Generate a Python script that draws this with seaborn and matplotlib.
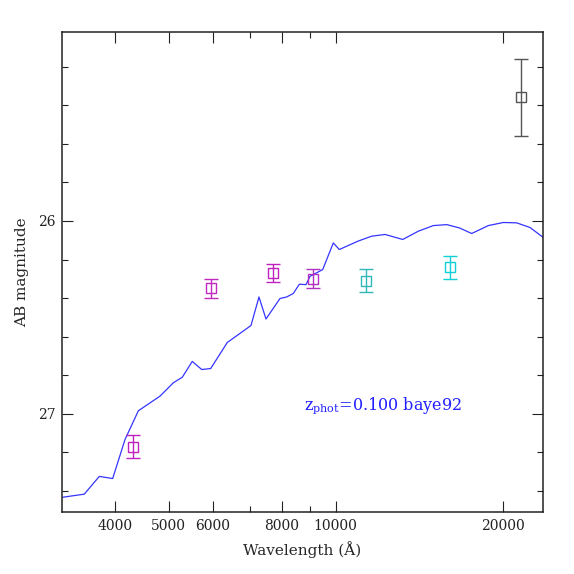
import matplotlib
matplotlib.use("Agg")
import numpy as np
import pandas as pd
import matplotlib.pyplot as plt
from matplotlib.ticker import FixedLocator, FixedFormatter, MultipleLocator, NullFormatter
import seaborn as sns

# best-fit template spectrum (baye92), wavelength in Angstrom / AB mag
spec_wave = [3222, 3524, 3751, 3965, 4173, 4410, 4825, 5098, 5292, 5516,
             5736, 5954, 6378, 7037, 7274, 7489, 7936, 8160, 8386, 8600,
             8842, 8989, 9475, 9901, 10150, 10985, 11610, 12270, 13205, 14090,
             14995, 15850, 16700, 17580, 18835, 20045, 21190, 22390, 23660]
spec_mag = [27.432, 27.416, 27.324, 27.335, 27.133, 26.984, 26.908, 26.839, 26.810, 26.728,
            26.770, 26.765, 26.630, 26.542, 26.394, 26.508, 26.402, 26.394, 26.376, 26.328,
            26.330, 26.287, 26.252, 26.114, 26.148, 26.104, 26.079, 26.070, 26.096, 26.053,
            26.024, 26.019, 26.036, 26.065, 26.024, 26.008, 26.010, 26.034, 26.086]

# observed photometry
phot_wave = [4313, 5954, 7720, 9090, 11340, 16090, 21570]
phot_mag = [27.17, 26.349, 26.269, 26.300, 26.309, 26.241, 25.359]
phot_err = [0.06, 0.05, 0.048, 0.05, 0.06, 0.058, 0.20]
phot_colors = ["#c020c0", "#c028c0", "#c020c0", "#b030c0", "#30b8b8", "#10d0d8", "#555555"]

x_major = [4000, 5000, 6000, 8000, 10000, 20000]
x_major_labels = ["4000", "5000", "6000", "8000", "10000", "20000"]
x_minor = [7000, 9000]

sns.set_theme(style="ticks")
plt.rcParams["font.family"] = ["DejaVu Serif"]
plt.rcParams["mathtext.fontset"] = "dejavuserif"

fig = plt.figure(figsize=(5.74, 5.74), dpi=100)
ax = fig.add_axes([0.1085, 0.1075, 0.837, 0.837])

spec = pd.DataFrame({"wave": spec_wave, "mag": spec_mag})
sns.lineplot(data=spec, x="wave", y="mag", ax=ax, color="#3535ff",
             linewidth=0.9, sort=False)

for w, m, e, c in zip(phot_wave, phot_mag, phot_err, phot_colors):
    ax.errorbar(w, m, yerr=e, fmt="s", ms=7, mfc="none", mec=c, mew=1.0,
                ecolor=c, elinewidth=1.0, capsize=5, capthick=1.0)

ax.set_xscale("log")
ax.set_xlim(3217, 23600)
ax.set_ylim(27.51, 25.02)

ax.xaxis.set_major_locator(FixedLocator(x_major))
ax.xaxis.set_major_formatter(FixedFormatter(x_major_labels))
ax.xaxis.set_minor_locator(FixedLocator(x_minor))
ax.xaxis.set_minor_formatter(NullFormatter())
ax.yaxis.set_major_locator(MultipleLocator(1))
ax.yaxis.set_minor_locator(MultipleLocator(0.2))

ax.tick_params(which="both", direction="in", top=True, right=True,
               width=0.8, colors="#222222", labelsize=10, pad=5)
ax.tick_params(which="major", length=8)
ax.tick_params(which="minor", length=4.3)
for s in ax.spines.values():
    s.set_linewidth(1.1)
    s.set_color("#222222")

ax.set_xlabel("Wavelength (Å)", fontsize=11, labelpad=6)
ax.set_ylabel("AB magnitude", fontsize=11, labelpad=6)

ax.text(8770, 26.955, r"z$_{\rm phot}$=0.100 baye92", color="#2020ff",
        fontsize=11.5, ha="left", va="center")

fig.savefig("out.png", dpi=100)
